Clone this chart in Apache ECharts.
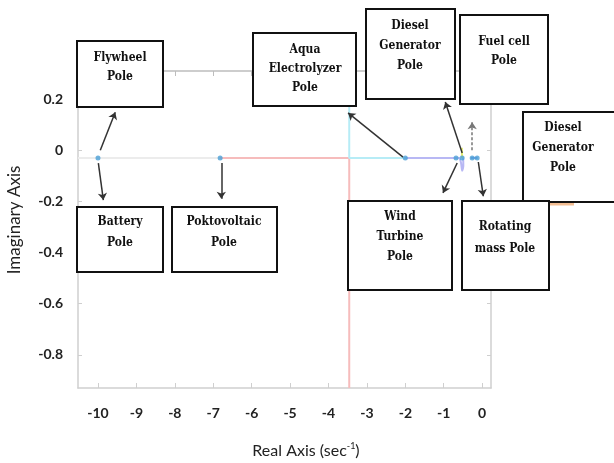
<!DOCTYPE html>
<html>
<head>
<meta charset="utf-8">
<script src="https://cdn.jsdelivr.net/npm/echarts@6/dist/echarts.min.js"></script>
<style>html,body{margin:0;padding:0;background:#fff;}#c{width:614px;height:463px;}</style>
</head>
<body>
<div id="c"></div>
<script>
// ---- data ----
const realTicks = [-10, -9, -8, -7, -6, -5, -4, -3, -2, -1, 0];
const imagTicks = [-0.8, -0.6, -0.4, -0.2, 0, 0.2];
const poleReal = [-10, -6.82, -2, -0.68, -0.52, -0.26, -0.13];
const poleImag = [-0.03, -0.03, -0.03, -0.03, -0.03, -0.03, -0.03];

const grayBranchRe = [-10.52, -6.82];
const grayBranchIm = [-0.03, -0.03];
const redBranchRe = [-6.82, -3.46, -3.46];
const redBranchIm = [-0.03, -0.03, -0.93];
const cyanBranchRe = [-2, -3.46, -3.46];
const cyanBranchIm = [-0.03, -0.03, 0.31];
const blueBranchRe = [-2, -0.68, -0.6, -0.55, -0.52, -0.49, -0.5, -0.55];
const blueBranchIm = [-0.03, -0.03, -0.03, -0.05, -0.08, -0.06, -0.03, -0.02];
const blue2BranchRe = [-0.3, -0.12];
const blue2BranchIm = [-0.03, -0.03];
const yellowBranchRe = [-0.52, -0.53];
const yellowBranchIm = [-0.03, 0.01];

// annotation arrows (from pole toward label box)
const arrowFromRe = [-9.94, -9.99, -6.79, -2.06, -0.52, -0.26, -0.05, -0.65, -0.10];
const arrowFromIm = [0.0, -0.05, -0.05, -0.027, -0.011, 0.0, -0.03, -0.05, -0.046];
const arrowToRe = [-9.55, -9.86, -6.79, -3.49, -0.96, -0.26, 0.81, -1.02, 0.03];
const arrowToIm = [0.149, -0.195, -0.19, 0.146, 0.189, 0.11, -0.03, -0.167, -0.18];
const arrowDashed = [false, false, false, false, false, true, false, false, false];

// label boxes
const boxTexts = [
  ["Flywheel", "Pole"],
  ["Aqua", "Electrolyzer", "Pole"],
  ["Diesel", "Generator", "Pole"],
  ["Fuel cell", "Pole"],
  ["Diesel", "Generator", "Pole"],
  ["Battery", "Pole"],
  ["Poktovoltaic", "Pole"],
  ["Wind", "Turbine", "Pole"],
  ["Rotating", "mass Pole"]
];
const boxRects = [
  [77, 41, 86, 66], [253, 33, 103, 73], [366, 9, 89, 90], [460, 15, 88, 89],
  [523, 112, 97, 90], [77, 207, 86, 65], [172, 207, 105, 65], [348, 201, 104, 89], [462, 201, 87, 89]
];
const boxTextTop = [58, 50, 26, 42, 128, 222, 222, 217, 227];
const boxTextStep = [19, 19, 20, 19, 20, 21, 21, 20, 22];
const boxTextX = [120, 305, 410, 504, 563, 120, 224, 400, 505];

function zip(a, b) { return a.map((v, i) => [v, b[i]]); }

const chart = echarts.init(document.getElementById('c'), null, {renderer: 'canvas'});

const graphics = [];
boxRects.forEach((r, i) => {
  graphics.push({
    type: 'rect', z: 100,
    shape: {x: r[0], y: r[1], width: r[2], height: r[3]},
    style: {fill: '#fff', stroke: '#111', lineWidth: 2}
  });
  boxTexts[i].forEach((t, j) => {
    graphics.push({
      type: 'text', z: 101,
      x: boxTextX[i], y: boxTextTop[i] + j * boxTextStep[i],
      style: {text: t, font: 'bold 12px "DejaVu Serif Condensed", "DejaVu Serif", serif', fill: '#111', align: 'center', verticalAlign: 'middle'}
    });
  });
});
graphics.push({type: 'line', z: 50, shape: {x1: 550, y1: 204, x2: 574, y2: 204}, style: {stroke: '#f2bd92', lineWidth: 3}});
graphics.push({
  type: 'text', z: 101, x: 306, y: 451,
  style: {
    text: '{a|Real Axis (sec}{s|-1}{a|)}', align: 'center', verticalAlign: 'middle',
    rich: {a: {fontFamily: 'Lato', fontSize: 16, fill: '#222'}, s: {fontFamily: 'Lato', fontSize: 9, fill: '#222', verticalAlign: 'top', padding: [0, 0, 9, 0]}}
  }
});
graphics.push({
  type: 'text', z: 101, x: 15, y: 220, rotation: Math.PI / 2,
  style: {text: 'Imaginary Axis', fontFamily: 'Lato', fontSize: 17, fill: '#222', align: 'center', verticalAlign: 'middle'}
});

const arrowData = arrowFromRe.map((x, i) => [
  {coord: [x, arrowFromIm[i]], lineStyle: {type: arrowDashed[i] ? [3, 2] : 'solid', color: arrowDashed[i] ? '#777' : '#333'}},
  {coord: [arrowToRe[i], arrowToIm[i]]}
]);

const axisGray = '#cfcfcf';
const option = {
  animation: false,
  backgroundColor: '#fff',
  grid: {left: 78, right: 123, top: 71, bottom: 75, containLabel: false},
  xAxis: [{
    type: 'value', min: -10.52, max: 0.23, position: 'bottom',
    axisLine: {show: true, onZero: false, lineStyle: {color: axisGray, width: 1.5}},
    axisTick: {show: true, inside: true, length: 5, customValues: realTicks, lineStyle: {color: axisGray}},
    axisLabel: {show: true, customValues: realTicks, margin: 18, fontFamily: 'Lato', fontWeight: 'bold', fontSize: 14, color: '#222',
      formatter: v => String(Math.round(v))},
    splitLine: {show: false}
  }, {
    type: 'value', min: -10.52, max: 0.23, position: 'top',
    axisLine: {show: true, onZero: false, lineStyle: {color: '#bdbdbd', width: 1.5}},
    axisTick: {show: true, inside: true, length: 5, customValues: realTicks, lineStyle: {color: '#bdbdbd'}},
    axisLabel: {show: false}, splitLine: {show: false}
  }],
  yAxis: [{
    type: 'value', min: -0.93, max: 0.31, position: 'left',
    axisLine: {show: true, onZero: false, lineStyle: {color: axisGray, width: 1.5}},
    axisTick: {show: true, inside: true, length: 4, customValues: imagTicks, lineStyle: {color: axisGray}},
    axisLabel: {show: true, customValues: imagTicks, margin: 15, fontFamily: 'Lato', fontWeight: 'bold', fontSize: 14, color: '#222',
      formatter: v => (Math.abs(v) < 1e-9 ? '0' : (Math.round(v * 10) / 10).toString())},
    splitLine: {show: false}
  }, {
    type: 'value', min: -0.93, max: 0.31, position: 'right',
    axisLine: {show: true, onZero: false, lineStyle: {color: axisGray, width: 1.5}},
    axisTick: {show: true, inside: true, length: 4, customValues: imagTicks, lineStyle: {color: axisGray}},
    axisLabel: {show: false}, splitLine: {show: false}
  }],
  series: [
    {type: 'line', data: zip(grayBranchRe, grayBranchIm), showSymbol: false, lineStyle: {color: '#ececec', width: 2}, silent: true},
    {type: 'line', data: zip(redBranchRe, redBranchIm), showSymbol: false, lineStyle: {color: '#f6bcbc', width: 2}, silent: true},
    {type: 'line', data: zip(cyanBranchRe, cyanBranchIm), showSymbol: false, lineStyle: {color: '#b6ecf6', width: 2}, silent: true},
    {type: 'line', data: zip(blueBranchRe, blueBranchIm), showSymbol: false, smooth: 0.3, lineStyle: {color: '#b8b8f4', width: 2}, silent: true},
    {type: 'line', data: zip(blue2BranchRe, blue2BranchIm), showSymbol: false, lineStyle: {color: '#7f9be6', width: 2}, silent: true},
    {type: 'line', data: zip(yellowBranchRe, yellowBranchIm), showSymbol: false, lineStyle: {color: '#e6ee70', width: 2}, silent: true},
    {
      type: 'scatter', data: zip(poleReal, poleImag), symbol: 'circle', symbolSize: 5,
      itemStyle: {color: '#4a9fd6'}, clip: false, z: 5,
      markLine: {
        silent: true, symbol: ['none', 'arrow'], symbolSize: 7, precision: 3,
        label: {show: false}, lineStyle: {color: '#333', width: 1.5, type: 'solid'},
        emphasis: {disabled: true},
        data: arrowData
      }
    }
  ],
  graphic: graphics
};
chart.setOption(option);
</script>
</body>
</html>
